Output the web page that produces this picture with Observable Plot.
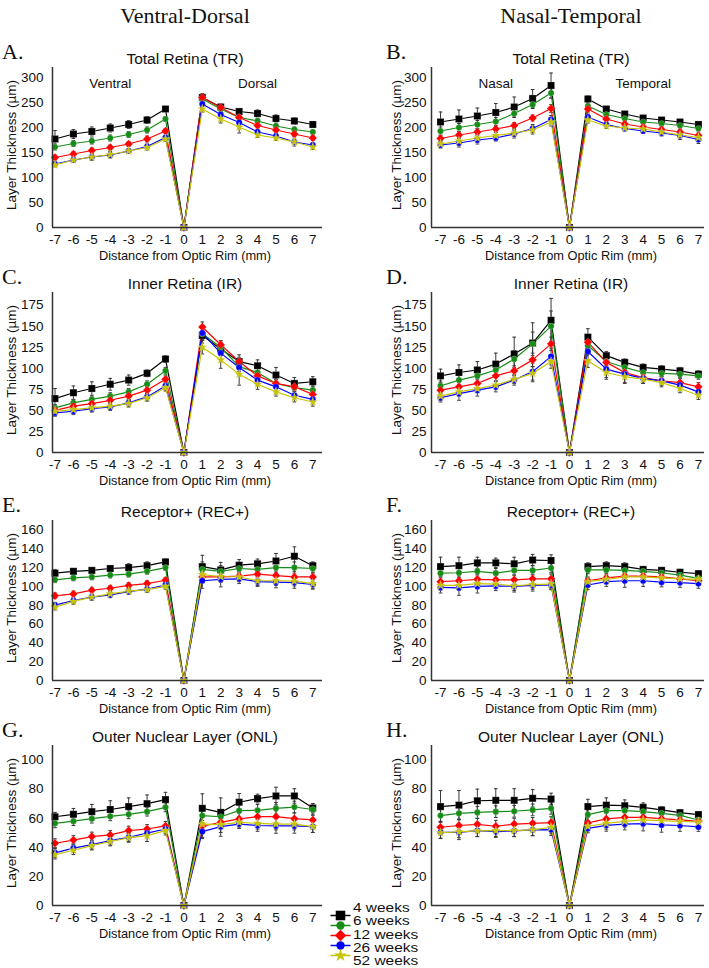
<!DOCTYPE html>
<html><head><meta charset="utf-8">
<script src="https://cdn.jsdelivr.net/npm/d3@7"></script>
<script src="https://cdn.jsdelivr.net/npm/@observablehq/plot@0.6"></script>
<style>
body{margin:0;background:#fff;}
#fig{position:relative;width:709px;height:968px;overflow:hidden;background:#fff;font-family:"Liberation Sans",Arial,sans-serif;color:#111;}
.abs{position:absolute;white-space:nowrap;line-height:1;}
.serif{font-family:"Liberation Serif","Times New Roman",serif;}
</style></head><body><div id="fig"></div>
<script>
// ---------- shared categories ----------
const dist = [-7,-6,-5,-4,-3,-2,-1,0,1,2,3,4,5,6,7];
const ages = ["4 weeks","6 weeks","12 weeks","26 weeks","52 weeks"];
const ageColors = ["#000000","#168c16","#ff0000","#0000ff","#c6c300"];
const ageSymbols = ["square","circle","diamond2","circle","star"];
const columnHeaders = ["Ventral-Dorsal","Nasal-Temporal"];
const ticksTR = [0,50,100,150,200,250,300];
const ticksIR = [0,25,50,75,100,125,150,175];
const ticksREC = [0,20,40,60,80,100,120,140,160];
const ticksONL = [0,20,40,60,80,100];

// ---------- A. Total Retina, ventral-dorsal ----------
const TR_VD_4  = [177,187,192,199,206,215,237,0,260,241,232,228,218,213,206];
const TR_VD_6  = [161,168,173,179,186,195,217,0,257,237,220,213,203,196,191];
const TR_VD_12 = [140,147,154,160,167,177,193,0,260,240,220,204,195,187,179];
const TR_VD_26 = [127,135,141,145,153,162,180,0,247,226,210,191,183,171,165];
const TR_VD_52 = [125,135,141,146,153,160,177,0,237,217,201,185,179,171,161];
const TR_VD_4e  = [17,9,9,8,8,7,5,0,8,6,5,7,7,6,6];
const TR_VD_6e  = [6,6,6,6,6,6,5,0,6,5,5,5,5,5,4];
const TR_VD_12e = [5,5,5,5,5,6,5,0,6,5,5,5,5,5,5];
const TR_VD_26e = [4,5,6,6,5,5,5,0,5,6,6,5,5,5,5];
const TR_VD_52e = [4,5,6,6,5,5,5,0,6,8,12,5,5,8,5];

// ---------- B. Total Retina, nasal-temporal ----------
const TR_NT_4  = [211,217,223,230,241,258,284,0,257,237,227,219,215,211,206];
const TR_NT_6  = [193,200,206,212,228,246,269,0,243,226,218,211,208,204,198];
const TR_NT_12 = [178,185,191,197,204,219,238,0,237,217,207,201,196,191,184];
const TR_NT_26 = [165,169,175,179,187,198,216,0,221,206,198,193,189,184,176];
const TR_NT_52 = [167,173,179,184,189,195,211,0,215,203,199,197,191,185,180];
const TR_NT_4e  = [20,18,16,18,20,18,25,0,6,5,5,4,4,4,5];
const TR_NT_6e  = [8,8,8,8,8,8,10,0,6,5,5,5,5,5,5];
const TR_NT_12e = [6,6,6,6,6,6,8,0,6,5,5,5,5,5,5];
const TR_NT_26e = [6,8,8,6,8,8,8,0,6,5,5,5,6,8,8];
const TR_NT_52e = [6,6,6,6,6,8,8,0,6,5,5,5,5,5,5];

// ---------- C. Inner Retina, ventral-dorsal ----------
const IR_VD_4  = [64,71,76,81,86,94,111,0,139,123,108,103,92,82,84];
const IR_VD_6  = [53,59,63,67,72,81,97,0,141,125,102,95,82,77,74];
const IR_VD_12 = [50,55,58,62,67,74,87,0,149,128,108,91,82,78,69];
const IR_VD_26 = [47,49,52,54,59,66,79,0,142,118,101,86,78,68,63];
const IR_VD_52 = [49,51,53,55,58,65,77,0,125,110,93,81,72,65,60];
const IR_VD_4e  = [12,8,8,7,6,4,4,0,9,8,8,7,9,7,6];
const IR_VD_6e  = [4,4,4,4,4,4,4,0,8,6,6,5,5,5,5];
const IR_VD_12e = [4,4,4,4,4,4,4,0,6,5,5,5,5,5,5];
const IR_VD_26e = [4,4,4,4,4,4,5,0,8,8,8,6,5,5,5];
const IR_VD_52e = [4,4,4,4,4,4,4,0,8,10,13,6,5,5,5];

// ---------- D. Inner Retina, nasal-temporal ----------
const IR_NT_4  = [91,95,98,105,117,130,157,0,137,115,107,101,99,97,93];
const IR_NT_6  = [79,86,91,98,111,129,150,0,127,108,101,95,94,93,91];
const IR_NT_12 = [74,78,82,91,97,110,129,0,131,107,95,89,85,83,78];
const IR_NT_26 = [65,70,74,78,86,96,114,0,120,99,93,88,85,80,72];
const IR_NT_52 = [67,72,76,80,87,94,108,0,109,95,90,87,83,76,68];
const IR_NT_4e  = [8,9,10,13,20,24,26,0,10,5,4,4,4,4,4];
const IR_NT_6e  = [6,6,6,8,10,14,18,0,8,5,4,4,4,4,4];
const IR_NT_12e = [5,5,5,6,6,8,8,0,8,6,5,5,5,5,5];
const IR_NT_26e = [5,8,7,6,6,12,10,0,10,10,10,6,5,5,5];
const IR_NT_52e = [5,5,5,5,5,8,8,0,8,8,8,5,5,5,5];

// ---------- E. Receptor+, ventral-dorsal ----------
const REC_VD_4  = [114,116,117,119,120,122,126,0,121,117.5,122.5,124,127,132,122];
const REC_VD_6  = [107,109,110,112,113,116,120,0,118,116,119,118,120,120,119];
const REC_VD_12 = [90,92,96,98,101,103,106.5,0,110,110,111,113,111.5,110,110];
const REC_VD_26 = [80,85,88.5,91,94.5,97,101.5,0,106,107.5,108,105,104.5,104,102];
const REC_VD_52 = [78,84,88.5,92,95,96.5,100,0,112.5,110.5,110,106,106,105.5,103];
const REC_VD_4e  = [4,3,3,3,4,4,3,0,12,8,6,5,8,10,4];
const REC_VD_6e  = [3,3,3,3,3,3,3,0,8,6,5,5,5,6,5];
const REC_VD_12e = [3,3,3,3,3,3,3,0,5,5,5,5,5,6,5];
const REC_VD_26e = [3,3,3,3,3,3,3,0,8,8,5,5,6,6,5];
const REC_VD_52e = [3,3,3,3,3,3,3,0,6,6,5,5,5,5,5];

// ---------- F. Receptor+, nasal-temporal ----------
const REC_NT_4  = [121,122,125,125,124,128,127.5,0,121,122,121,118,117,115,113.5];
const REC_NT_6  = [114,114.5,116,114,117,117,119.5,0,117.5,117.5,117,116,114.5,112,108.5];
const REC_NT_12 = [105,106,107.5,107,107,108,108,0,106,109,111,111,110,108,106];
const REC_NT_26 = [99,98.5,100,100.5,100,101,101.5,0,101.5,105,106,106,104.5,104,103];
const REC_NT_52 = [101,101,103,102.5,100.5,102,102.5,0,105,107.5,110,110,109,108,107.5];
const REC_NT_4e  = [10,9,6,5,7,6,6,0,4,4,4,3,3,3,3];
const REC_NT_6e  = [5,5,5,5,5,5,5,0,4,4,4,4,4,4,4];
const REC_NT_12e = [5,5,5,5,5,5,5,0,4,4,4,4,4,4,4];
const REC_NT_26e = [6,8,7,5,6,6,5,0,5,5,7,6,5,5,5];
const REC_NT_52e = [5,5,5,5,5,5,5,0,4,4,4,4,4,4,4];

// ---------- G. ONL, ventral-dorsal ----------
const ONL_VD_4  = [61,62.7,64.5,66,68,70,72.8,0,66.8,64,71,73.5,75.3,75.3,67];
const ONL_VD_6  = [56.5,58,59.7,61.3,62.7,64.5,67.5,0,61.8,61,65.2,65.4,66.8,67.7,66];
const ONL_VD_12 = [42.8,45,47.4,48.5,51.5,52.6,54.7,0,54.5,57.2,59.5,61.1,61.1,59.7,58.8];
const ONL_VD_26 = [36.2,39.4,41.9,44.6,46.9,49.7,52.6,0,50.8,54.2,56,55,54.7,54.7,54.2];
const ONL_VD_52 = [35,38,41.2,44,46.5,48,51.5,0,56,55.6,57.2,56.5,56,56,54.2];
const ONL_VD_4e  = [3,4,5,6,6,6,5,0,10,10,6,3,6,5,3];
const ONL_VD_6e  = [3,3,3,3,3,3,3,0,5,5,4,4,4,4,4];
const ONL_VD_12e = [3,3,3,3,3,3,3,0,4,4,4,4,4,4,4];
const ONL_VD_26e = [3,3,3,3,3,3,3,0,4,4,3,4,5,5,4];
const ONL_VD_52e = [3,3,3,3,3,4,3,0,10,8,4,4,4,4,4];

// ---------- H. ONL, nasal-temporal ----------
const ONL_NT_4  = [68,69,72,72.3,72.3,73.7,73.2,0,68,69,68.6,67.5,65.7,63.8,62.5];
const ONL_NT_6  = [61.8,63.4,64,64.5,64.8,65.7,66.8,0,62.5,65.2,65.2,64.5,63.4,62,58.8];
const ONL_NT_12 = [53.8,55,55.8,54.5,56,56.5,57,0,56.8,59.5,60.6,60.6,59.7,58.8,57.9];
const ONL_NT_26 = [50.3,50.3,51.5,50.8,51.3,52,52.2,0,53,55.1,56,56.3,55.4,55,54];
const ONL_NT_52 = [50,50.6,51.3,51.5,51.5,52,53.8,0,54.5,56.5,57.9,58.8,58.4,57.9,57.4];
const ONL_NT_4e  = [11,10,8,8,8,6,4,0,5,5,4,3,2,2,2];
const ONL_NT_6e  = [4,4,4,4,4,4,4,0,4,4,4,4,4,4,4];
const ONL_NT_12e = [4,4,4,4,4,4,4,0,4,4,4,4,4,4,4];
const ONL_NT_26e = [4,5,4,4,4,4,4,0,3,4,4,5,5,4,3];
const ONL_NT_52e = [4,4,4,4,4,4,4,0,3,4,4,4,4,4,4];

// region annotations
const regionsVD = [{x:-4, label:"Ventral"},{x:4, label:"Dorsal"}];
const regionsNT = [{x:-4, label:"Nasal"},{x:4, label:"Temporal"}];

// ---------- layout ----------
const rowZero = [227, 452, 680, 905];
const cols = [
  {left:0,   width:354, mL:52, mR:32, xDomain:[-7.136, 7.527], tickPad:9, yLabelX:12,  centerX:185, letterX:2},
  {left:354, width:355, mL:77, mR:5,  xDomain:[-7.49, 7.33],   tickPad:5, yLabelX:397, centerX:571, letterX:386}
];
const PLOT_H = 160, M_TOP = 4, M_BOT = 34;

const panels = [
  {letter:"A.", title:"Total Retina (TR)", col:0, row:0, yMax:320, ticks:ticksTR,
   means:[TR_VD_4,TR_VD_6,TR_VD_12,TR_VD_26,TR_VD_52], errs:[TR_VD_4e,TR_VD_6e,TR_VD_12e,TR_VD_26e,TR_VD_52e], regions:regionsVD, regionY:288},
  {letter:"B.", title:"Total Retina (TR)", col:1, row:0, yMax:320, ticks:ticksTR,
   means:[TR_NT_4,TR_NT_6,TR_NT_12,TR_NT_26,TR_NT_52], errs:[TR_NT_4e,TR_NT_6e,TR_NT_12e,TR_NT_26e,TR_NT_52e], regions:regionsNT, regionY:288},
  {letter:"C.", title:"Inner Retina (IR)", col:0, row:1, yMax:190, ticks:ticksIR,
   means:[IR_VD_4,IR_VD_6,IR_VD_12,IR_VD_26,IR_VD_52], errs:[IR_VD_4e,IR_VD_6e,IR_VD_12e,IR_VD_26e,IR_VD_52e]},
  {letter:"D.", title:"Inner Retina (IR)", col:1, row:1, yMax:190, ticks:ticksIR,
   means:[IR_NT_4,IR_NT_6,IR_NT_12,IR_NT_26,IR_NT_52], errs:[IR_NT_4e,IR_NT_6e,IR_NT_12e,IR_NT_26e,IR_NT_52e]},
  {letter:"E.", title:"Receptor+ (REC+)", col:0, row:2, yMax:170, ticks:ticksREC,
   means:[REC_VD_4,REC_VD_6,REC_VD_12,REC_VD_26,REC_VD_52], errs:[REC_VD_4e,REC_VD_6e,REC_VD_12e,REC_VD_26e,REC_VD_52e]},
  {letter:"F.", title:"Receptor+ (REC+)", col:1, row:2, yMax:170, ticks:ticksREC,
   means:[REC_NT_4,REC_NT_6,REC_NT_12,REC_NT_26,REC_NT_52], errs:[REC_NT_4e,REC_NT_6e,REC_NT_12e,REC_NT_26e,REC_NT_52e]},
  {letter:"G.", title:"Outer Nuclear Layer (ONL)", col:0, row:3, yMax:110, ticks:ticksONL,
   means:[ONL_VD_4,ONL_VD_6,ONL_VD_12,ONL_VD_26,ONL_VD_52], errs:[ONL_VD_4e,ONL_VD_6e,ONL_VD_12e,ONL_VD_26e,ONL_VD_52e]},
  {letter:"H.", title:"Outer Nuclear Layer (ONL)", col:1, row:3, yMax:110, ticks:ticksONL,
   means:[ONL_NT_4,ONL_NT_6,ONL_NT_12,ONL_NT_26,ONL_NT_52], errs:[ONL_NT_4e,ONL_NT_6e,ONL_NT_12e,ONL_NT_26e,ONL_NT_52e]}
];

const ageR = [4.0, 3.1, 3.8, 3.1, 3.0];
const fig = document.getElementById("fig");

function label(txt, x, y, size, o = {}) {
  const d = document.createElement("div");
  d.className = "abs" + (o.serif ? " serif" : "");
  d.textContent = txt;
  d.style.fontSize = size + "px";
  d.style.left = x + "px";
  d.style.top = y + "px";
  if (o.left) d.style.transformOrigin = "0 50%";
  d.style.transform = (o.left ? "translate(0,-50%)" : "translate(-50%,-50%)") +
    (o.rotate ? " rotate(-90deg)" : "") + (o.sx ? ` scaleX(${o.sx})` : "");
  fig.appendChild(d);
  return d;
}

function buildPanel(p) {
  const c = cols[p.col];
  const rows = [];
  p.means.forEach((arr, si) => arr.forEach((v, i) =>
    rows.push({dist: dist[i], si, value: v, err: p.errs[si][i]})));
  const eb = rows.filter(d => d.err > 0);
  const axisCol = "#333";
  const ebCol = "#3a3a3a";
  const marks = [
    Plot.ruleX(eb, {x: "dist", y1: d => d.value - d.err, y2: d => d.value + d.err, stroke: ebCol, strokeWidth: 1}),
    Plot.link(eb, {x1: d => d.dist - 0.1, x2: d => d.dist + 0.1, y1: d => d.value + d.err, y2: d => d.value + d.err, stroke: ebCol, strokeWidth: 1}),
    Plot.link(eb, {x1: d => d.dist - 0.1, x2: d => d.dist + 0.1, y1: d => d.value - d.err, y2: d => d.value - d.err, stroke: ebCol, strokeWidth: 1})
  ];
  ages.forEach((a, si) => {
    const s = rows.filter(d => d.si === si);
    marks.push(Plot.line(s, {x: "dist", y: "value", stroke: ageColors[si], strokeWidth: 1.2}));
  });
  ages.forEach((a, si) => {
    const s = rows.filter(d => d.si === si);
    marks.push(Plot.dot(s, {x: "dist", y: "value", symbol: ageSymbols[si], r: ageR[si], fill: ageColors[si], stroke: "#ffffff", strokeOpacity: 0.35, strokeWidth: 0.6}));
  });
  marks.push(Plot.ruleY([0], {stroke: axisCol, strokeWidth: 1.5}));
  marks.push(Plot.ruleX([c.xDomain[0]], {stroke: axisCol, strokeWidth: 1.5}));
  if (p.regions) {
    marks.push(Plot.text(p.regions, {x: "x", y: () => p.regionY, text: "label", fontSize: 13.5, fill: "#111"}));
  }
  const svg = Plot.plot({
    width: c.width, height: M_TOP + PLOT_H + M_BOT,
    marginLeft: c.mL, marginRight: c.mR, marginTop: M_TOP, marginBottom: M_BOT,
    style: {fontSize: "13.5px", fontFamily: "'Liberation Sans', Arial, sans-serif", color: "#111", background: "transparent", overflow: "visible"},
    x: {domain: c.xDomain, ticks: dist, tickSize: 0, tickPadding: 7, tickFormat: d => String(d), label: null},
    y: {domain: [0, p.yMax], ticks: p.ticks, tickSize: 0, tickPadding: c.tickPad, tickFormat: d => String(d), label: null},
    marks
  });
  const wrap = document.createElement("div");
  wrap.className = "abs";
  wrap.style.left = c.left + "px";
  wrap.style.top = (rowZero[p.row] - PLOT_H - M_TOP) + "px";
  wrap.appendChild(svg);
  fig.appendChild(wrap);

  const y0 = rowZero[p.row];
  const titleY = y0 - 168;
  label(p.title, c.centerX, titleY, 15.5);
  label(p.letter, c.letterX, titleY - 7, 22, {serif: true, left: true});
  label("Layer Thickness (\u00b5m)", c.yLabelX, y0 - 82, 13.5, {rotate: true});
  label("Distance from Optic Rim (mm)", c.centerX, y0 + 28.5, 12.8);
}

panels.forEach(buildPanel);

// column headers
label(columnHeaders[0], cols[0].centerX, 16, 22, {serif: true});
label(columnHeaders[1], cols[1].centerX, 16, 22, {serif: true});

// legend: swatches drawn by Plot, texts placed beside each row
const legTop = 900, legRange = [8, 61];
const legMarks = [];
ages.forEach((a, i) => {
  legMarks.push(Plot.link([a], {x1: () => 4, x2: () => 24, y1: d => d, y2: d => d, stroke: ageColors[i], strokeWidth: 1.5}));
  legMarks.push(Plot.dot([a], {x: () => 14, y: d => d, symbol: ageSymbols[i], r: ageR[i] * 1.35, fill: ageColors[i]}));
});
const legY = d3.scalePoint().domain(ages).range(legRange);
const legend = Plot.plot({
  width: 30, height: 68, margin: 0,
  style: {background: "transparent", overflow: "visible"},
  x: {domain: [0, 30], range: [0, 30], axis: null},
  y: {type: "point", domain: ages, range: legRange, axis: null},
  marks: legMarks
});
const lw = document.createElement("div");
lw.className = "abs";
lw.style.left = "326px";
lw.style.top = legTop + "px";
lw.appendChild(legend);
fig.appendChild(lw);
ages.forEach(a => label(a, 353, legTop + legY(a), 13.2, {left: true, sx: 1.17}));
</script></body></html>
